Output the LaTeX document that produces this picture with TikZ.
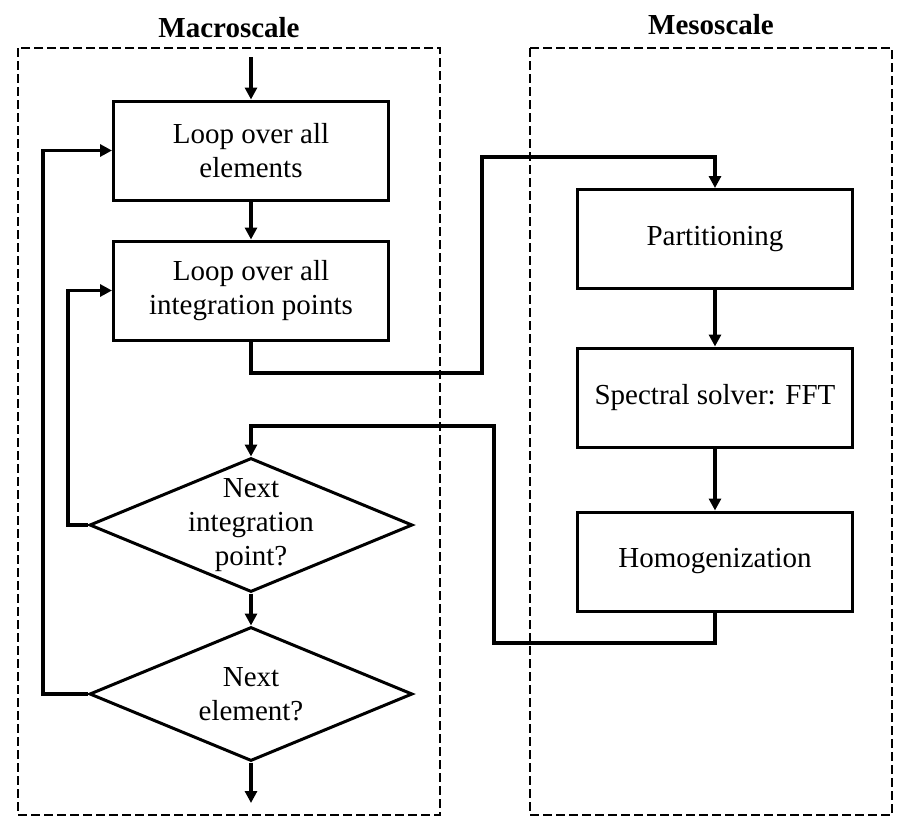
\documentclass[tikz,border=0pt]{standalone}
\usepackage{fontspec}
\setmainfont{Liberation Serif}
\usetikzlibrary{arrows.meta,shapes.geometric}

\begin{document}
\begin{tikzpicture}[x=0.5pt,y=-0.5pt,
    txt/.style={font=\fontsize{14.5}{16.8}\selectfont,align=center},
    stepbox/.style={txt,draw,line width=1.5pt,rectangle,minimum width=137.5pt,minimum height=49.5pt,inner sep=0pt},
    decision/.style={draw,line width=1.5pt,diamond,minimum width=161.5pt,minimum height=67pt,inner sep=0pt},
    frame/.style={draw,dashed,line width=1pt,dash pattern=on 4.5pt off 2pt},
    heading/.style={font=\fontsize{14.5}{16.5}\selectfont\bfseries},
    flow/.style={line width=1.7pt,-{Triangle[length=6pt,width=6pt]}},
    wire/.style={line width=1.7pt}]
  \useasboundingbox (0,0) rectangle (912,831);

  % scale frames
  \draw[frame] (18,48) rectangle (440,815);
  \draw[frame] (530,48) rectangle (892,815);
  \draw (229,28) node[heading] (macro) {Macroscale};
  \draw (711,25) node[heading] (meso) {Mesoscale};

  % macroscale loop
  \coordinate (in) at (251,57);
  \draw (251,150.5) node[stepbox] (elems) {Loop over all\\elements};
  \draw (251,290.5) node[stepbox] (ips) {Loop over all\\integration points};
  \draw (251,525) node[decision,label={[txt]center:Next\\integration\\point?}] (nextip) {};
  \draw (251,694) node[decision,label={[txt]center:Next\\element?}] (nextel) {};
  \coordinate (out) at (251,803);

  % mesoscale solver
  \draw (715,239) node[stepbox] (part) {Partitioning};
  \draw (715,397.5) node[stepbox] (fft) {Spectral solver: FFT};
  \draw (715,561.5) node[stepbox] (homog) {Homogenization};

  \coordinate (j1) at (482,373);
  \coordinate (j2) at (482,157);
  \coordinate (j3) at (494,643);
  \coordinate (j4) at (494,426);
  \coordinate (k1) at (68,525);
  \coordinate (k2) at (43,694);

  \path[flow] (in) edge (elems.north);
  \path[flow] (elems) edge (ips);
  \path[flow] (part) edge (fft);
  \path[flow] (fft) edge (homog);
  \path[flow] (nextip) edge (nextel);
  \path[flow] (nextel.south) edge (out);

  \draw[flow] (ips.south) |- (j1) -- (j2) -| (part.north);
  \draw[flow] (homog.south) |- (j3) -- (j4) -| (nextip.north);
  \draw[flow] (nextip.west) -- (k1) |- (ips.west);
  \draw[flow] (nextel.west) -- (k2) |- (elems.west);

\end{tikzpicture}
\end{document}
